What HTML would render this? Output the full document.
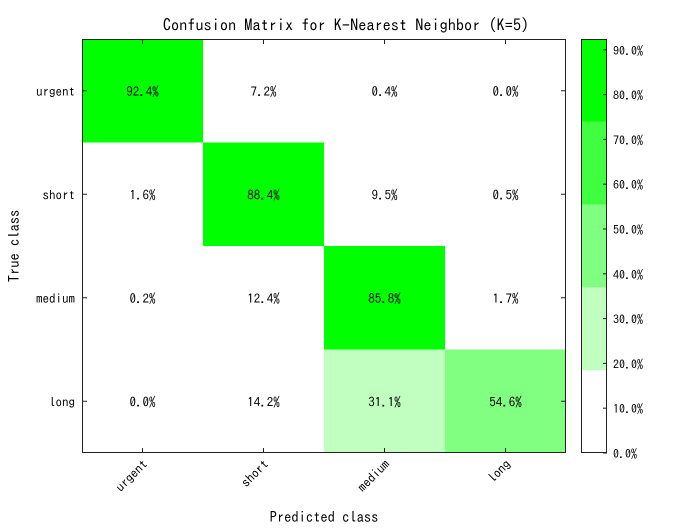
<!DOCTYPE html>
<html><head><meta charset="utf-8"><style>
body{margin:0;background:#fff;}
svg text{font-family:"IPAGothic","Liberation Sans",sans-serif;font-size:13px;fill:#000;}
</style></head><body>
<svg id="chart" width="700" height="525" xmlns="http://www.w3.org/2000/svg"></svg>
<script>
const predictedClasses = ["urgent","short","medium","long"];
const trueClasses = ["urgent","short","medium","long"];
const row0 = [92.4, 7.2, 0.4, 0.0];
const row1 = [1.6, 88.4, 9.5, 0.5];
const row2 = [0.2, 12.4, 85.8, 1.7];
const row3 = [0.0, 14.2, 31.1, 54.6];
const values = [row0,row1,row2,row3];
const colorbarTicks = [0,10,20,30,40,50,60,70,80,90];
const cmax = 92.4;
const levels = ["#ffffff","#c0ffc0","#80ff80","#40ff40","#00ff00"];

const NS="http://www.w3.org/2000/svg";
const svg=document.getElementById('chart');
function el(tag,attrs,parent){const e=document.createElementNS(NS,tag);for(const k in attrs)e.setAttribute(k,attrs[k]);(parent||svg).appendChild(e);return e;}
const L=82,R=566,T=39,B=453;
const cw=(R-L)/predictedClasses.length, ch=(B-T)/trueClasses.length;
const xPos=i=>L+i*cw, yPos=j=>T+j*ch;
function colorFor(v){let b=Math.floor(v/cmax*levels.length);if(b>=levels.length)b=levels.length-1;if(b<0)b=0;return levels[b];}

values.forEach((row,j)=>row.forEach((v,i)=>{
  const r=el('rect',{x:xPos(i),y:yPos(j),width:cw,height:ch,fill:colorFor(v)});
  
  
  const t=el('text',{x:xPos(i)+cw/2,y:yPos(j)+ch/2+5,'text-anchor':'middle'});
  t.textContent=v.toFixed(1)+'%';
  
  
}));
const frame=el('rect',{x:L+0.5,y:T+0.5,width:R-L-1,height:B-T-1,fill:'none',stroke:'#222','stroke-width':1});


trueClasses.forEach((c,j)=>{
  const y=yPos(j)+ch/2;
  el('line',{x1:L,y1:y,x2:L+5,y2:y,stroke:'#222'});
  el('line',{x1:R-5,y1:y,x2:R,y2:y,stroke:'#222'});
  const t=el('text',{x:L-7,y:y+5,'text-anchor':'end'});t.textContent=c;
  
  
});
predictedClasses.forEach((c,i)=>{
  const x=xPos(i)+cw/2;
  el('line',{x1:x,y1:B,x2:x,y2:B-5,stroke:'#222'});
  el('line',{x1:x,y1:T,x2:x,y2:T+5,stroke:'#222'});
  const t=el('text',{x:x+6,y:B+12,'text-anchor':'end',transform:`rotate(-45 ${x+6} ${B+12})`});t.textContent=c;
  
  
});
let t=el('text',{x:346,y:31,'text-anchor':'middle'});t.textContent='Confusion Matrix for K-Nearest Neighbor (K=5)';t.style.fontSize='16.3px';

t=el('text',{x:324,y:522,'text-anchor':'middle'});t.textContent='Predicted class';t.style.fontSize='14.5px';

t=el('text',{x:19,y:246,'text-anchor':'middle',transform:'rotate(-90 19 246)'});t.textContent='True class';t.style.fontSize='14.5px';

const CL=581,CR=607;
const cy=v=>B-v/cmax*(B-T);
levels.forEach((c,k)=>{
  const lo=k*cmax/levels.length, hi=(k+1)*cmax/levels.length;
  const r=el('rect',{x:CL,y:cy(hi),width:CR-CL,height:cy(lo)-cy(hi),fill:c});
  
  
});
const cf=el('rect',{x:CL+0.5,y:T+0.5,width:CR-CL-1,height:B-T-1,fill:'none',stroke:'#222'});

colorbarTicks.forEach(v=>{
  const y=cy(v);
  el('line',{x1:CR-4,y1:y,x2:CR,y2:y,stroke:'#222'});
  const tt=el('text',{x:CR+6,y:y+5});tt.textContent=v.toFixed(1)+'%';tt.style.fontSize='12px';
  
  
});
</script>
</body></html>
